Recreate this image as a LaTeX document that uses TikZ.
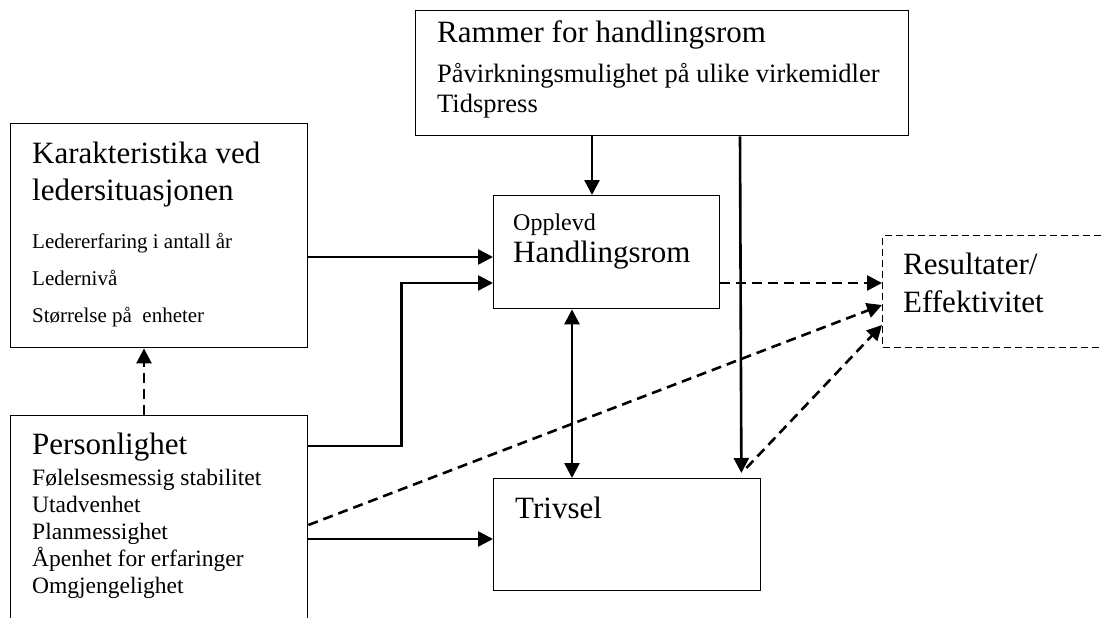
\documentclass[tikz,border=0pt]{standalone}
\usepackage{fontspec}
\setmainfont{Liberation Serif}
\usetikzlibrary{arrows.meta,positioning}

\begin{document}
\begin{tikzpicture}[x=1pt,y=-1pt,
		box/.style={draw,line width=1.4pt,anchor=north west,inner sep=0pt},
		lbl/.style={anchor=base west,inner sep=0pt,align=left},
		big/.style={lbl,font=\fontsize{31}{37}\selectfont},
		arr/.style={line width=2.6pt,-{Triangle[length=15pt,width=15pt]}},
		darr/.style={arr,dash pattern=on 10pt off 6pt}]
	\useasboundingbox (0,0) rectangle (1101,618);
	\clip (0,0) rectangle (1101,618);
	\node[box,minimum width=493pt,minimum height=125pt] (ram) at (415,10) {};
	\node[box,minimum width=297pt,minimum height=224pt] (kar) at (10,123) {};
	\node[box,minimum width=226pt,minimum height=113pt] (opp) at (493,195) {};
	\node[box,minimum width=267pt,minimum height=112pt] (tri) at (493,478) {};
	\node[box,minimum width=297pt,minimum height=240pt] (per) at (10,415) {};
	\node[box,dash pattern=on 7pt off 4pt,minimum width=240pt,minimum height=112pt] (res) at (882,235) {};
	\node[big] (kartitle) at ([shift={(22,77)}]kar.north west) {Karakteristika ved\\ledersituasjonen};
	\node[lbl,font=\fontsize{21}{37}\selectfont] (karlist) at ([shift={(22,199)}]kar.north west) {Ledererfaring i antall år\\Ledernivå\\Størrelse på~ enheter};
	\node[big] (ramtitle) at ([shift={(22,33)}]ram.north west) {Rammer for handlingsrom};
	\node[lbl,font=\fontsize{26.5}{29}\selectfont] (ramlist) at ([shift={(22,102)}]ram.north west) {Påvirkningsmulighet på ulike virkemidler\\Tidspress};
	\node[lbl,font=\fontsize{24}{28}\selectfont] (oppsmall) at ([shift={(20,35)}]opp.north west) {Opplevd};
	\node[big] (opptitle) at ([shift={(20,67)}]opp.north west) {Handlingsrom};
	\node[big,font=\fontsize{31}{38}\selectfont] (restitle) at ([shift={(21,77)}]res.north west) {Resultater/\\Effektivitet};
	\node[big] (pertitle) at ([shift={(22,39)}]per.north west) {Personlighet};
	\node[lbl,font=\fontsize{23.5}{27}\selectfont] (perlist) at ([shift={(22,178)}]per.north west) {Følelsesmessig stabilitet\\Utadvenhet\\Planmessighet\\Åpenhet for erfaringer\\Omgjengelighet};
	\node[big] (trititle) at ([shift={(22,40)}]tri.north west) {Trivsel};

	\draw[arr] ([xshift=177pt]ram.south west) -- ([xshift=99pt]opp.north west);
	\draw[arr,shorten >=5pt] ([xshift=325pt]ram.south west) -- ([xshift=-20pt]tri.north east);
	\draw[arr] ([shift={(0,134)}]kar.north east) coordinate (k1) -- (k1 -| opp.west);
	\draw[arr] ([shift={(0,31)}]per.north east) -- ++(93,0) |- ([shift={(0,88)}]opp.north west);
	\draw[arr] ([shift={(0,124)}]per.north east) coordinate (p1) -- (p1 -| tri.west);
	\draw[arr,{Triangle[length=15pt,width=15pt]}-{Triangle[length=15pt,width=15pt]}] ([xshift=79pt]opp.south west) -- ([xshift=79pt]tri.north west);
	\draw[darr] ([shift={(0,88)}]opp.north east) coordinate (o1) -- (o1 -| res.west);
	\draw[darr] ([shift={(0,110)}]per.north east) -- ([shift={(0,70)}]res.north west);
	\draw[darr] ([shift={(-15,-10)}]tri.north east) -- ([shift={(0,90)}]res.north west);
	\draw[darr] ([xshift=134pt]per.north west) -- ([xshift=134pt]kar.south west);
\end{tikzpicture}
\end{document}
